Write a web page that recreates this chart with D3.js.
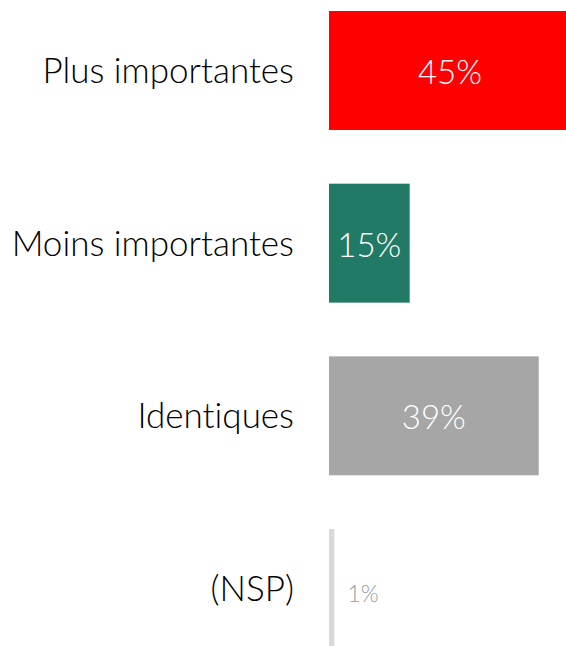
<!DOCTYPE html>
<html>
<head>
<meta charset="utf-8">
<script src="https://cdn.jsdelivr.net/npm/d3@7"></script>
<style>
  body { margin: 0; background: #fff; }
  svg { display: block; }
  text { font-variant-ligatures: none; }
</style>
</head>
<body>
<script>
// data
var categories = ['Plus importantes', 'Moins importantes', 'Identiques', '(NSP)'];
var values = [45, 15, 39, 1];
var colors = ['#FF0000', '#217A65', '#A6A6A6', '#D9D9D9'];
var valueLabels = ['45%', '15%', '39%', '1%'];

var width = 566, height = 646;

var svg = d3.select('body').append('svg').attr('width', width).attr('height', height);

var x = d3.scaleLinear().domain([0, 45]).range([329, 571]);
var y = d3.scaleBand().domain(categories).range([11, 648]).paddingInner(0.311);

var rows = categories.map(function(c, i) {
  return {cat: c, val: values[i], color: colors[i], label: valueLabels[i]};
});

// bars
svg.selectAll('rect.bar').data(rows).enter().append('rect')
  .attr('class', 'bar')
  .attr('x', x(0))
  .attr('y', function(d) { return y(d.cat); })
  .attr('width', function(d) { return x(d.val) - x(0); })
  .attr('height', y.bandwidth())
  .attr('fill', function(d) { return d.color; });

// category labels on the left
svg.selectAll('text.cat').data(rows).enter().append('text')
  .attr('class', 'cat')
  .attr('x', 294)
  .attr('y', function(d) { return y(d.cat) + y.bandwidth() / 2 + 12.5; })
  .attr('text-anchor', 'end')
  .attr('font-family', 'Lato')
  .attr('font-weight', 300)
  .attr('font-size', 35)
  .attr('fill', '#000')
  .text(function(d) { return d.cat; });

// value labels, inside the bar unless it is too thin
svg.selectAll('text.val').data(rows).enter().append('text')
  .attr('class', 'val')
  .attr('x', function(d) { return d.val < 5 ? x(d.val) + 13 : (x(0) + x(d.val)) / 2; })
  .attr('y', function(d) { return y(d.cat) + y.bandwidth() / 2 + (d.val < 5 ? 13 : 13.5); })
  .attr('text-anchor', function(d) { return d.val < 5 ? 'start' : 'middle'; })
  .attr('font-family', 'Lato')
  .attr('font-weight', 300)
  .attr('font-size', function(d) { return d.val < 5 ? 23 : 33; })
  .attr('fill', function(d) { return d.val < 5 ? '#999999' : '#ffffff'; })
  .text(function(d) { return d.label; });
</script>
</body>
</html>
